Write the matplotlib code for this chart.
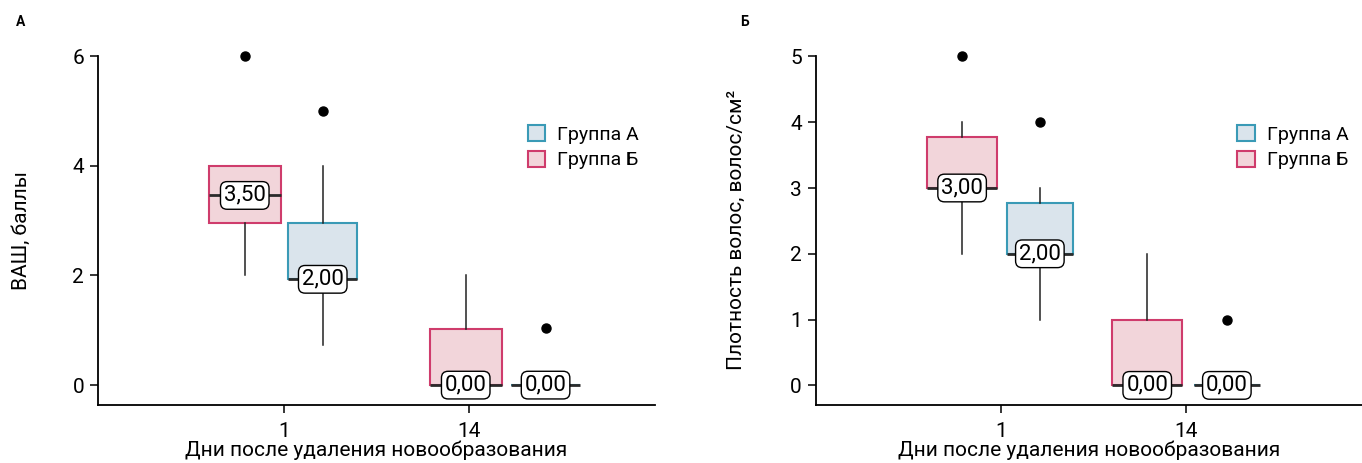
import matplotlib
matplotlib.use("Agg")
import matplotlib.pyplot as plt
from matplotlib import font_manager
from matplotlib.patches import Patch

# pick a narrow-ish family if present
names = {f.name for f in font_manager.fontManager.ttflist}
fam = 'Liberation Sans Narrow' if 'Liberation Sans Narrow' in names else 'Roboto'
plt.rcParams['font.family'] = [fam, 'DejaVu Sans']

days = ['1', '14']
groups = ['Группа А', 'Группа Б']

# panel A: ВАШ
vas_a_q1 = [1.93, 0.0]
vas_a_med = [1.93, 0.0]
vas_a_q3 = [2.96, 0.0]
vas_a_lo = [0.73, 0.0]
vas_a_hi = [4.0, 0.0]
vas_a_out = [[5.0], [1.05]]
vas_a_lab = ['2,00', '0,00']

vas_b_q1 = [2.95, 0.0]
vas_b_med = [3.46, 0.0]
vas_b_q3 = [4.0, 1.03]
vas_b_lo = [2.0, 0.0]
vas_b_hi = [4.0, 2.0]
vas_b_out = [[6.0], []]
vas_b_lab = ['3,50', '0,00']

# panel Б: плотность волос
hd_a_q1 = [2.0, 0.0]
hd_a_med = [2.0, 0.0]
hd_a_q3 = [2.77, 0.0]
hd_a_lo = [1.0, 0.0]
hd_a_hi = [3.0, 0.0]
hd_a_out = [[4.0], [1.0]]
hd_a_lab = ['2,00', '0,00']

hd_b_q1 = [3.0, 0.0]
hd_b_med = [3.0, 0.0]
hd_b_q3 = [3.78, 1.0]
hd_b_lo = [2.0, 0.0]
hd_b_hi = [4.0, 2.0]
hd_b_out = [[5.0], []]
hd_b_lab = ['3,00', '0,00']

BLUE_E, BLUE_F = '#3a9ab6', '#dae4ec'
PINK_E, PINK_F = '#cf3c6c', '#f2d5da'


def make_stats(q1, med, q3, lo, hi, out):
    return [dict(q1=q1[i], med=med[i], q3=q3[i], whislo=lo[i], whishi=hi[i],
                 fliers=out[i]) for i in range(len(q1))]


def draw_group(ax, stats, labels, pos, width, edge, face):
    res = ax.bxp(stats, positions=pos, widths=width, patch_artist=True,
                 showcaps=False,
                 boxprops=dict(facecolor=face, edgecolor=edge, linewidth=1.5),
                 medianprops=dict(color='#2b2b2b', linewidth=2),
                 whiskerprops=dict(color='#222222', linewidth=1.1),
                 flierprops=dict(marker='o', markerfacecolor='black',
                                 markeredgecolor='black', markersize=6.5))
    for fl in res['fliers']:
        fl.set_clip_on(False)
    for p, s, t in zip(pos, stats, labels):
        ax.text(p, s['med'], t, ha='center', va='center', fontsize=16, zorder=5,
                bbox=dict(boxstyle='round,pad=0.15,rounding_size=0.3', fc='white',
                          ec='black', lw=1))


def style_axis(ax, ylim, yticks, ylabel, ypad):
    ax.set_ylim(*ylim)
    ax.set_yticks(yticks)
    ax.set_xticks([0, 1])
    ax.set_xticklabels(days)
    for s in ['top', 'right']:
        ax.spines[s].set_visible(False)
    for s in ['left', 'bottom']:
        ax.spines[s].set_linewidth(1.3)
    ax.spines['left'].set_bounds(yticks[-1], ylim[0])
    ax.tick_params(labelsize=15, length=6, width=1.1, pad=4)
    ax.tick_params(axis='x', pad=6)
    ax.set_xlabel('Дни после удаления новообразования', fontsize=15, labelpad=0)
    ax.set_ylabel(ylabel, fontsize=15, labelpad=ypad)
    handles = [Patch(facecolor=BLUE_F, edgecolor=BLUE_E, lw=1.5),
               Patch(facecolor=PINK_F, edgecolor=PINK_E, lw=1.5)]
    ax.legend(handles, groups, frameon=False, fontsize=14, loc='upper left',
              bbox_to_anchor=(0.74, 0.85), handlelength=0.9, handleheight=0.9,
              handletextpad=0.6, labelspacing=0.35)


fig = plt.figure(figsize=(13.62, 4.63), dpi=100)
ax1 = fig.add_axes([0.072, 0.125, 0.409, 0.756])
ax2 = fig.add_axes([0.599, 0.125, 0.401, 0.756])

draw_group(ax1, make_stats(vas_b_q1, vas_b_med, vas_b_q3, vas_b_lo, vas_b_hi, vas_b_out),
           vas_b_lab, [-0.21, 0.98], 0.39, PINK_E, PINK_F)
draw_group(ax1, make_stats(vas_a_q1, vas_a_med, vas_a_q3, vas_a_lo, vas_a_hi, vas_a_out),
           vas_a_lab, [0.21, 1.41], 0.37, BLUE_E, BLUE_F)
ax1.set_xlim(-1, 2)
style_axis(ax1, (-0.365, 6.02), [0, 2, 4, 6], 'ВАШ, баллы', 30)

draw_group(ax2, make_stats(hd_b_q1, hd_b_med, hd_b_q3, hd_b_lo, hd_b_hi, hd_b_out),
           hd_b_lab, [-0.21, 0.79], 0.38, PINK_E, PINK_F)
draw_group(ax2, make_stats(hd_a_q1, hd_a_med, hd_a_q3, hd_a_lo, hd_a_hi, hd_a_out),
           hd_a_lab, [0.21, 1.22], 0.36, BLUE_E, BLUE_F)
ax2.set_xlim(-1, 1.95)
style_axis(ax2, (-0.30, 5.02), [0, 1, 2, 3, 4, 5], 'Плотность волос, волос/см²', 32)

fig.text(16 / 1362, 1 - 22 / 463, 'А', fontsize=10, fontweight='bold', va='center')
fig.text(740 / 1362, 1 - 22 / 463, 'Б', fontsize=10, fontweight='bold', va='center')

fig.savefig('out.png', dpi=100)
